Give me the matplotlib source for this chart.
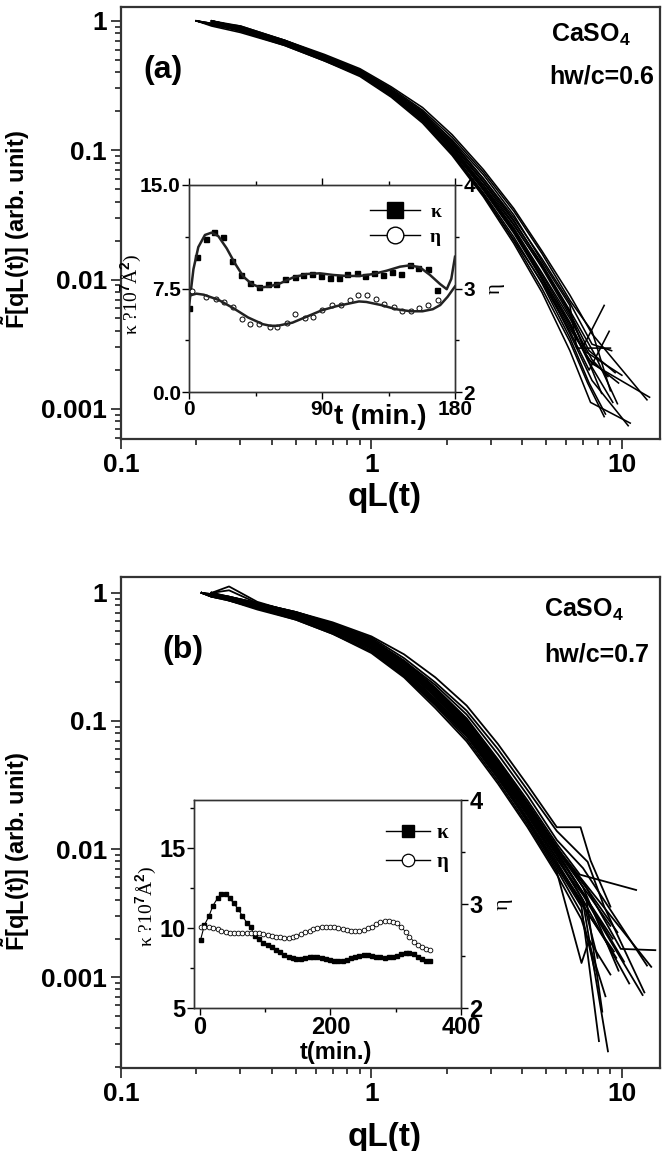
import numpy as np
import matplotlib
matplotlib.use("Agg")
import matplotlib.pyplot as plt
from matplotlib.lines import Line2D
from matplotlib.ticker import LogLocator, NullFormatter, FixedLocator

plt.rcParams["font.family"] = ["Liberation Sans", "DejaVu Sans"]
plt.rcParams["font.weight"] = "bold"
plt.rcParams["mathtext.fontset"] = "custom"
plt.rcParams["mathtext.rm"] = "Liberation Sans:bold"
plt.rcParams["mathtext.bf"] = "Liberation Sans:bold"
plt.rcParams["mathtext.it"] = "Liberation Sans:bold:italic"

nan = np.nan

# ---------------- panel (a): scaled structure factor, log10 F on a shared qL grid
qa_body = [0.20, 0.23, 0.30, 0.45, 0.65, 0.90, 1.20, 1.60, 2.10, 2.80, 3.70, 4.80, 6.20]
a_logF = [
    [0.00, -0.03, -0.07, -0.18, -0.30, -0.42, -0.58, -0.77, -1.02, -1.33, -1.67, -2.03, -2.45],
    [nan, 0.00, -0.05, -0.15, -0.27, -0.38, -0.53, -0.70, -0.93, -1.22, -1.52, -1.84, -2.18],
    [nan, 0.00, -0.08, -0.19, -0.31, -0.43, -0.59, -0.79, -1.04, -1.36, -1.72, -2.10, -2.55],
    [0.00, -0.02, -0.05, -0.16, -0.28, -0.39, -0.54, -0.72, -0.95, -1.24, -1.55, -1.88, -2.24],
    [nan, 0.00, -0.06, -0.17, -0.29, -0.41, -0.57, -0.75, -1.00, -1.30, -1.63, -1.98, -2.36],
    [0.00, -0.04, -0.09, -0.19, -0.31, -0.42, -0.57, -0.76, -0.99, -1.27, -1.58, -1.90, -2.25],
    [nan, -0.01, -0.04, -0.15, -0.26, -0.37, -0.51, -0.67, -0.88, -1.15, -1.45, -1.78, -2.12],
    [0.00, -0.03, -0.07, -0.18, -0.30, -0.41, -0.56, -0.74, -0.97, -1.27, -1.61, -1.99, -2.42],
    [nan, 0.00, -0.05, -0.16, -0.28, -0.40, -0.56, -0.75, -1.01, -1.34, -1.70, -2.07, -2.48],
    [0.00, -0.02, -0.06, -0.17, -0.29, -0.40, -0.55, -0.73, -0.96, -1.25, -1.57, -1.91, -2.28],
    [nan, 0.00, -0.07, -0.18, -0.30, -0.42, -0.58, -0.78, -1.03, -1.35, -1.69, -2.02, -2.40],
    [0.00, -0.03, -0.06, -0.16, -0.28, -0.39, -0.54, -0.71, -0.92, -1.19, -1.50, -1.86, -2.20],
    [nan, 0.00, -0.05, -0.17, -0.29, -0.41, -0.57, -0.76, -1.00, -1.31, -1.64, -2.00, -2.38],
    [0.00, -0.02, -0.06, -0.16, -0.27, -0.38, -0.52, -0.69, -0.90, -1.17, -1.47, -1.80, -2.16],
    [nan, 0.00, -0.06, -0.18, -0.30, -0.41, -0.56, -0.74, -0.98, -1.29, -1.62, -1.96, -2.33],
    [0.00, -0.03, -0.08, -0.18, -0.30, -0.42, -0.58, -0.76, -0.99, -1.29, -1.60, -1.95, -2.30],
    [nan, 0.00, -0.04, -0.15, -0.27, -0.39, -0.54, -0.72, -0.94, -1.22, -1.54, -1.89, -2.26],
    [0.00, -0.03, -0.07, -0.17, -0.29, -0.40, -0.56, -0.75, -0.99, -1.30, -1.63, -1.99, -2.34],
]
a_tail_q = [
    [7.4, 8.6], [7.6, 9.1], [7.5, 10.8], [7.8, 9.6], [7.4, 9.7], [7.0, 8.5],
    [7.6, 12.6], [7.6, 10.6], [7.3, 8.5], [7.2, 10.0], [7.4, 8.9], [6.6, 9.0],
    [7.6, 12.9], [7.6, 9.0], [7.5, 9.2], [7.6, 8.8], [7.4, 9.4], [7.5, 8.3],
]
a_tail_logF = [
    [-2.80, -3.04], [-2.50, -2.55], [-2.95, -3.11], [-2.58, -2.96], [-2.62, -2.80], [-2.52, -2.20],
    [-2.42, -2.93], [-2.78, -3.13], [-2.80, -3.06], [-2.56, -2.74], [-2.70, -2.40], [-2.53, -2.53],
    [-2.65, -2.91], [-2.40, -2.86], [-2.66, -2.95], [-2.62, -2.75], [-2.55, -2.72], [-2.67, -2.88],
]

# ---------------- panel (b)
qb_body = [0.21, 0.23, 0.27, 0.35, 0.50, 0.70, 1.00, 1.35, 1.80, 2.40, 3.20, 4.20, 5.50]
b_logF = [
    [0.00, -0.03, -0.06, -0.12, -0.20, -0.30, -0.43, -0.62, -0.85, -1.10, -1.43, -1.77, -2.12],
    [nan, 0.00, -0.03, -0.08, -0.15, -0.24, -0.36, -0.53, -0.74, -0.98, -1.30, -1.62, -1.96],
    [0.00, -0.02, -0.05, -0.11, -0.19, -0.29, -0.42, -0.60, -0.83, -1.08, -1.40, -1.73, -2.08],
    [nan, 0.00, 0.05, -0.07, -0.16, -0.26, -0.38, -0.56, -0.77, -1.01, -1.33, -1.66, -2.00],
    [0.00, -0.03, -0.06, -0.12, -0.21, -0.32, -0.46, -0.65, -0.88, -1.14, -1.47, -1.81, -2.18],
    [nan, 0.00, -0.04, -0.09, -0.17, -0.26, -0.38, -0.55, -0.76, -1.00, -1.31, -1.64, -1.98],
    [0.00, -0.01, -0.03, -0.08, -0.15, -0.23, -0.34, -0.48, -0.66, -0.88, -1.18, -1.50, -1.83],
    [nan, 0.00, -0.05, -0.11, -0.19, -0.28, -0.41, -0.59, -0.81, -1.06, -1.38, -1.71, -2.05],
    [0.00, -0.02, -0.04, -0.10, -0.18, -0.27, -0.40, -0.58, -0.79, -1.03, -1.35, -1.68, -2.02],
    [nan, 0.00, -0.05, -0.12, -0.20, -0.31, -0.45, -0.64, -0.87, -1.12, -1.45, -1.78, -2.14],
    [0.00, -0.02, -0.04, -0.09, -0.17, -0.26, -0.37, -0.53, -0.72, -0.95, -1.26, -1.58, -1.93],
    [nan, 0.00, -0.04, -0.10, -0.18, -0.28, -0.40, -0.58, -0.80, -1.05, -1.37, -1.70, -2.04],
    [0.00, -0.03, -0.05, -0.11, -0.19, -0.29, -0.43, -0.62, -0.84, -1.09, -1.41, -1.74, -2.10],
    [nan, 0.00, -0.03, -0.09, -0.16, -0.25, -0.37, -0.54, -0.75, -0.99, -1.32, -1.65, -1.99],
    [0.00, -0.02, -0.05, -0.10, -0.18, -0.27, -0.39, -0.57, -0.79, -1.04, -1.36, -1.69, -2.03],
    [nan, 0.00, -0.06, -0.13, -0.21, -0.32, -0.47, -0.66, -0.90, -1.16, -1.49, -1.83, -2.20],
    [0.00, -0.02, -0.04, -0.09, -0.17, -0.26, -0.38, -0.56, -0.78, -1.02, -1.34, -1.67, -2.01],
    [nan, 0.00, -0.04, -0.10, -0.18, -0.27, -0.40, -0.59, -0.81, -1.07, -1.39, -1.72, -2.07],
    [0.00, -0.01, -0.03, -0.08, -0.15, -0.24, -0.35, -0.51, -0.70, -0.92, -1.22, -1.54, -1.86],
    [nan, 0.00, -0.05, -0.11, -0.19, -0.29, -0.42, -0.61, -0.83, -1.08, -1.42, -1.76, -2.12],
    [0.00, -0.03, -0.05, -0.11, -0.20, -0.30, -0.44, -0.63, -0.86, -1.11, -1.44, -1.79, -2.16],
    [nan, 0.00, 0.02, -0.08, -0.16, -0.25, -0.37, -0.55, -0.76, -1.00, -1.32, -1.65, -1.99],
]
b_tail_q = [
    [7.0, 8.8], [6.8, 11.4], [7.0, 12.1], [7.2, 9.9, 13.6], [6.9, 7.4, 9.0], [7.0, 9.7],
    [6.84, 7.5, 9.0], [7.1, 10.7], [7.2, 8.35], [6.9, 8.1], [7.0, 12.6], [7.3, 9.2],
    [7.0, 9.5], [7.2, 13.1], [7.1, 10.2], [6.9, 8.6], [7.2, 9.0], [7.0, 8.0],
    [7.3, 8.5, 12.3], [7.0, 9.3], [6.9, 7.8], [7.2, 9.6],
]
b_tail_logF = [
    [-2.42, -3.58], [-2.20, -2.32], [-2.36, -3.14], [-2.30, -2.78, -2.79], [-2.89, -2.71, -2.98], [-2.30, -2.95],
    [-1.83, -2.09, -2.45], [-2.42, -3.05], [-2.38, -3.27], [-2.45, -3.50], [-2.15, -2.91], [-2.40, -2.70],
    [-2.44, -2.85], [-2.28, -2.92], [-2.36, -2.88], [-2.55, -3.15], [-2.33, -2.60], [-2.40, -2.85],
    [-2.10, -2.45, -3.12], [-2.45, -2.80], [-2.50, -2.95], [-2.30, -2.65],
]

# ---------------- inset (a): kappa and eta vs t
ka_t = [0.2, 5.6, 11.5, 17.1, 23.2, 29.3, 35.4, 41.5, 47.6, 53.6, 59.2, 65.3, 71.4, 77.3, 83.4,
        89.5, 95.6, 101.2, 107.1, 113.4, 119.3, 125.4, 131.5, 137.5, 143.6, 149.4, 155.3, 161.4, 167.5]
ka_k = [6.07, 9.8, 11.1, 11.6, 11.2, 9.5, 8.45, 7.88, 7.63, 7.83, 7.83, 8.19, 8.36, 8.48, 8.53,
        8.4, 8.24, 8.24, 8.57, 8.6, 8.43, 8.62, 8.48, 8.72, 8.53, 9.18, 9.0, 8.91, 7.39]
ka_fit_t = [0, 3, 6.3, 10.8, 15.3, 19.8, 25.5, 31.1, 36.8, 42.4, 48.0, 53.7, 61.6, 70.6, 79.6,
            88.6, 97.6, 106.7, 115.7, 124.7, 133.8, 142.8, 149.5, 156.3, 163.1, 169.8, 174.4, 177.5, 180]
ka_fit_k = [6.2, 8.9, 10.5, 11.38, 11.55, 11.30, 10.41, 9.32, 8.36, 7.83, 7.58, 7.63, 7.87, 8.31, 8.55,
            8.60, 8.48, 8.41, 8.41, 8.55, 8.79, 9.08, 9.18, 9.03, 8.48, 7.83, 7.45, 8.2, 9.8]
ea_t = [2.3, 11.5, 18.1, 23.8, 30.1, 35.8, 41.6, 47.3, 54.7, 59.6, 66.2, 71.9, 78.2, 84.0,
        90.3, 96.6, 102.6, 109.2, 114.1, 120.7, 126.4, 132.1, 138.4, 144.2, 149.9, 155.6, 161.9, 168.5]
ea_eta = [2.975, 2.921, 2.896, 2.868, 2.821, 2.707, 2.654, 2.654, 2.625, 2.625, 2.671, 2.753, 2.718, 2.725,
          2.796, 2.839, 2.839, 2.886, 2.939, 2.939, 2.896, 2.850, 2.825, 2.778, 2.778, 2.814, 2.839, 2.886]
ea_fit_t = [0, 5, 10, 20, 30, 40, 50, 55, 60, 70, 80, 90, 100, 110, 115, 120,
            130, 140, 150, 158, 165, 170, 175, 180]
ea_fit_eta = [2.93, 2.95, 2.94, 2.89, 2.81, 2.72, 2.655, 2.64, 2.64, 2.67, 2.73, 2.79, 2.83, 2.86, 2.875, 2.87,
              2.84, 2.80, 2.78, 2.78, 2.80, 2.84, 2.92, 3.02]

# ---------------- inset (b)
tb = [1, 7, 14, 20, 27, 33, 40, 46, 52, 59, 65, 72, 78, 84, 91, 97, 104, 110, 116, 123,
      129, 136, 142, 148, 155, 161, 168, 174, 180, 187, 193, 200, 206, 212, 219, 225, 232, 238,
      244, 251, 257, 264, 270, 276, 283, 289, 296, 302, 308, 315, 321, 328, 334, 340, 347, 353]
kb = [9.25, 10.19, 10.75, 11.40, 11.85, 12.10, 12.10, 11.85, 11.54, 11.17, 10.75, 10.33, 10.04, 9.5,
      9.29, 9.08, 8.94, 8.83, 8.63, 8.48, 8.31, 8.21, 8.10, 8.06, 8.06, 8.10, 8.17, 8.21, 8.21, 8.15,
      8.06, 8.0, 7.96, 7.94, 7.94, 8.0, 8.10, 8.21, 8.27, 8.31, 8.31, 8.27, 8.21, 8.17, 8.15, 8.17,
      8.21, 8.27, 8.35, 8.42, 8.42, 8.35, 8.21, 8.06, 7.94, 7.96]
eb = [2.776, 2.782, 2.782, 2.772, 2.756, 2.744, 2.734, 2.724, 2.718, 2.718, 2.718, 2.724, 2.724, 2.724,
      2.718, 2.712, 2.702, 2.692, 2.686, 2.679, 2.676, 2.676, 2.679, 2.692, 2.712, 2.728, 2.744, 2.760,
      2.772, 2.782, 2.782, 2.782, 2.776, 2.766, 2.756, 2.75, 2.744, 2.740, 2.740, 2.75, 2.766, 2.782,
      2.804, 2.824, 2.837, 2.837, 2.830, 2.814, 2.782, 2.734, 2.686, 2.638, 2.606, 2.583, 2.567, 2.558]

W, H = 662, 1151
fig = plt.figure(figsize=(W / 100, H / 100), dpi=100)


def frac(left, top, right, bottom):
    return [left / W, 1 - bottom / H, (right - left) / W, (bottom - top) / H]


def style_main(ax, ylim, label_pos):
    ax.set_xscale("log")
    ax.set_yscale("log")
    ax.set_xlim(0.1, 14.2)
    ax.set_ylim(*ylim)
    ax.set_xticks([0.1, 1, 10])
    ax.set_xticklabels(["0.1", "1", "10"])
    yt = [t for t in [1e-3, 1e-2, 1e-1, 1] if ylim[0] <= t <= ylim[1]]
    ax.set_yticks(yt)
    ax.set_yticklabels(["0.001", "0.01", "0.1", "1"][-len(yt):])
    for axis in (ax.xaxis, ax.yaxis):
        axis.set_minor_locator(LogLocator(base=10, subs=np.arange(2, 10)))
        axis.set_minor_formatter(NullFormatter())
    ax.tick_params(which="both", direction="out", top=False, right=False,
                   width=1.3, color="#333333", labelsize=19, pad=3)
    ax.tick_params(which="major", length=7)
    ax.tick_params(which="minor", length=4)
    for s in ax.spines.values():
        s.set_linewidth(1.6)
        s.set_color("#333333")
    ax.set_xlabel("qL(t)", fontsize=24, fontweight="bold")
    ax.xaxis.set_label_coords(0.49, label_pos[1])
    ax.xaxis.label.set_va("top")
    ax.set_ylabel(r"$\tilde{\mathrm{F}}$[qL(t)] (arb. unit)", fontsize=17, fontweight="bold")
    ax.yaxis.set_label_coords(-0.165, label_pos[0])


def draw_bundle(ax, q_body, body, tail_q, tail_logF, lw):
    for row, tq, tf in zip(body, tail_q, tail_logF):
        row = np.asarray(row, dtype=float)
        ok = ~np.isnan(row)
        q = np.concatenate([np.asarray(q_body)[ok], tq])
        lf = np.concatenate([row[ok], tf])
        ax.plot(q, 10 ** lf, color="black", lw=lw)


# ---- panel (a)
ax_a = fig.add_axes(frac(121, 7, 660, 439))
draw_bundle(ax_a, qa_body, a_logF, a_tail_q, a_tail_logF, 1.15)
style_main(ax_a, (5.85e-4, 1.28), (0.486, -0.10))

fig.text(163 / W, 1 - 70 / H, "(a)", fontsize=23, fontweight="bold", ha="center", va="center")
fig.text(591 / W, 1 - 35 / H, r"CaSO$_\mathbf{4}$", fontsize=18, fontweight="bold", ha="center", va="center")
fig.text(602 / W, 1 - 77 / H, "hw/c=0.6", fontsize=18, fontweight="bold", ha="center", va="center")

# ---- panel (b)
ax_b = fig.add_axes(frac(121, 577, 660, 1068))
draw_bundle(ax_b, qb_body, b_logF, b_tail_q, b_tail_logF, 1.3)
style_main(ax_b, (1.95e-4, 1.33), (0.44, -0.11))

fig.text(183 / W, 1 - 650 / H, "(b)", fontsize=23, fontweight="bold", ha="center", va="center")
fig.text(584 / W, 1 - 610 / H, r"CaSO$_\mathbf{4}$", fontsize=18, fontweight="bold", ha="center", va="center")
fig.text(597 / W, 1 - 655 / H, "hw/c=0.7", fontsize=18, fontweight="bold", ha="center", va="center")


def style_inset(ax, ax2, labelsize):
    for a in (ax, ax2):
        for s in a.spines.values():
            s.set_linewidth(1.0)
            s.set_color("#333333")
    for a in (ax, ax2):
        a.tick_params(which="both", direction="out", labelsize=labelsize, width=1.0, pad=1)
        a.tick_params(which="major", length=5)
        a.tick_params(which="minor", length=3)
    ax2.set_ylim(2, 4)
    ax2.set_yticks([2, 3, 4])
    ax2.yaxis.set_minor_locator(FixedLocator([2.5, 3.5]))


# ---- inset (a)
ia = fig.add_axes(frac(189, 185, 455, 392))
ia2 = ia.twinx()
ia.set_xlim(0, 180)
ia.set_ylim(0, 15)
ia.set_xticks([0, 90, 180])
ia.xaxis.set_minor_locator(FixedLocator([45, 135]))
ia.set_yticks([0, 7.5, 15])
ia.set_yticklabels(["0.0", "7.5", "15.0"])
ia.yaxis.set_minor_locator(FixedLocator([3.75, 11.25]))
style_inset(ia, ia2, 15)
ia.tick_params(axis="x", which="both", top=True)

ia.plot(ka_t, ka_k, ls="none", marker="s", ms=3.6, color="black")
ia.plot(ka_fit_t, ka_fit_k, color="#222222", lw=1.8)
ia2.plot(ea_t, ea_eta, ls="none", marker="o", ms=3.6, mfc="white", mec="black", mew=0.7)
ia2.plot(ea_fit_t, ea_fit_eta, color="#222222", lw=1.8)

ia.set_xlabel("t (min.)", fontsize=20, fontweight="bold")
ia.xaxis.set_label_coords(0.72, -0.06)
ia.xaxis.label.set_va("top")
ia.set_ylabel(r"κ ?10$^{7}$Å$^{2}$)", fontsize=14, fontfamily="Liberation Serif", fontweight="normal")
ia.yaxis.set_label_coords(-0.17, 0.47)
ia2.set_ylabel("η", fontsize=15, fontfamily="Liberation Serif", fontweight="normal", labelpad=8)

h_a = [Line2D([], [], color="black", lw=1.0, marker="s", ms=11),
       Line2D([], [], color="black", lw=1.0, marker="o", ms=12, mfc="white", mew=1.0)]
ia2.legend(h_a, ["κ", "η"], loc="upper left", bbox_to_anchor=(0.68, 0.91), frameon=False,
           borderpad=0, borderaxespad=0, handlelength=2.6, handletextpad=0.5, labelspacing=0.35,
           prop={"family": "Liberation Serif", "size": 14})

# ---- inset (b)
ib = fig.add_axes(frac(194, 800, 461, 1008))
ib2 = ib.twinx()
ib.set_xlim(-9, 400)
ib.set_ylim(5, 18)
ib.set_xticks([0, 200, 400])
ib.xaxis.set_minor_locator(FixedLocator([100, 300]))
ib.set_yticks([5, 10, 15])
ib.yaxis.set_minor_locator(FixedLocator([7.5, 12.5, 17.5]))
style_inset(ib, ib2, 17)

ib.plot(tb, kb, color="black", lw=0.8, marker="s", ms=3.2)
ib2.plot(tb, eb, color="black", lw=0.6, marker="o", ms=3.4, mfc="white", mew=0.6)

ib.set_xlabel("t(min.)", fontsize=17, fontweight="bold")
ib.xaxis.set_label_coords(0.53, -0.16)
ib.xaxis.label.set_va("top")
ib.set_ylabel(r"κ ?10$^{7}$Å$^{2}$)", fontsize=14, fontfamily="Liberation Serif", fontweight="normal")
ib.yaxis.set_label_coords(-0.13, 0.49)
ib2.set_ylabel("η", fontsize=16, fontfamily="Liberation Serif", fontweight="normal", labelpad=8)

h_b = [Line2D([], [], color="black", lw=1.0, marker="s", ms=8),
       Line2D([], [], color="black", lw=1.0, marker="o", ms=9, mfc="white", mew=0.9)]
ib2.legend(h_b, ["κ", "η"], loc="upper left", bbox_to_anchor=(0.72, 0.89), frameon=False,
           borderpad=0, borderaxespad=0, handlelength=2.1, handletextpad=0.3, labelspacing=0.45,
           prop={"family": "Liberation Serif", "size": 15})

fig.savefig("out.png", dpi=100)
